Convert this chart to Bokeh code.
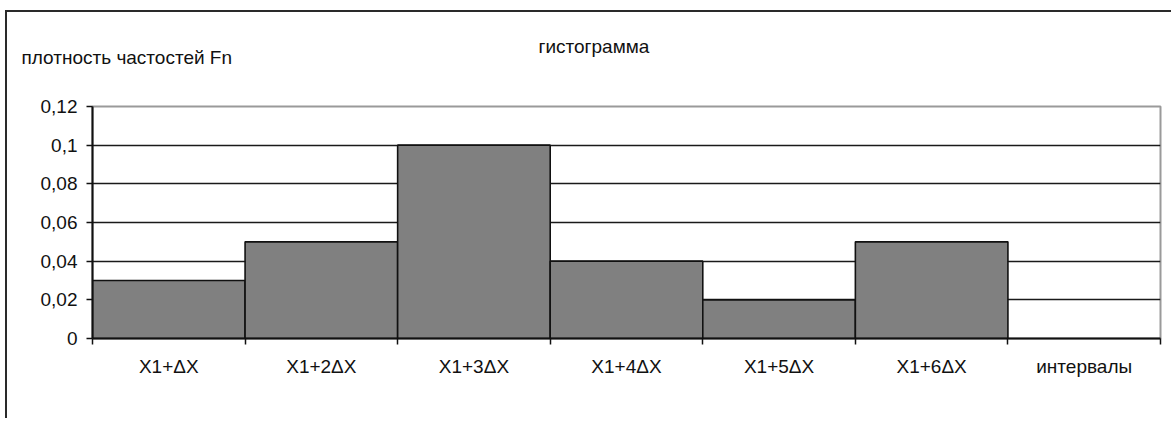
from bokeh.plotting import figure
from bokeh.models import FixedTicker, Title
from bokeh.embed import file_html
from bokeh.resources import INLINE

# data
categories = ["X1+ΔX", "X1+2ΔX", "X1+3ΔX", "X1+4ΔX", "X1+5ΔX", "X1+6ΔX", "интервалы"]
bar_values = [0.03, 0.05, 0.10, 0.04, 0.02, 0.05]
y_ticks = [0, 0.02, 0.04, 0.06, 0.08, 0.1, 0.12]
y_tick_labels = ["0", "0,02", "0,04", "0,06", "0,08", "0,1", "0,12"]
title_text = "гистограмма"
y_title = "плотность частостей Fn"

FONT = "Liberation Sans"
FS = "19px"

p = figure(width=1166, height=408, output_backend="svg", toolbar_location=None,
           x_range=(0, len(categories)), y_range=(0, 0.12),
           min_border_left=85, min_border_right=13, min_border_top=94, min_border_bottom=82,
           margin=(10, 0, 0, 5),
           styles={"border-left": "2px solid #2a2a2a", "border-top": "2px solid #2a2a2a"})

p.background_fill_color = "white"
p.border_fill_color = "white"
p.outline_line_color = "#9a9a9a"
p.outline_line_width = 2

xs = [i + 0.5 for i in range(len(bar_values))]
p.vbar(x=xs, top=bar_values, width=1.0, bottom=0,
       fill_color="#808080", line_color="#111111", line_width=1.6)

# x axis: tick marks at category boundaries, labels at centers
centers = [i + 0.5 for i in range(len(categories))]
p.xaxis.ticker = FixedTicker(ticks=centers, minor_ticks=list(range(len(categories) + 1)))
p.xaxis.major_label_overrides = {c: lab for c, lab in zip(centers, categories)}
p.xaxis.major_tick_line_color = None
p.xaxis.major_tick_out = 0
p.xaxis.major_tick_in = 0
p.xaxis.minor_tick_line_color = "#111111"
p.xaxis.minor_tick_line_width = 1.5
p.xaxis.minor_tick_out = 6
p.xaxis.minor_tick_in = 0
p.xaxis.axis_line_color = "#111111"
p.xaxis.axis_line_width = 2
p.xaxis.major_label_standoff = 11
p.xaxis.major_label_text_font = FONT
p.xaxis.major_label_text_font_size = FS
p.xaxis.major_label_text_color = "#111111"
p.xgrid.grid_line_color = None

# y axis
p.yaxis.ticker = FixedTicker(ticks=y_ticks)
p.yaxis.major_label_overrides = {t: lab for t, lab in zip(y_ticks, y_tick_labels)}
p.yaxis.major_tick_out = 6
p.yaxis.major_tick_in = 0
p.yaxis.minor_tick_line_color = None
p.yaxis.major_tick_line_color = "#111111"
p.yaxis.major_tick_line_width = 1.5
p.yaxis.axis_line_color = "#111111"
p.yaxis.axis_line_width = 2
p.yaxis.major_label_standoff = 9
p.yaxis.major_label_text_font = FONT
p.yaxis.major_label_text_font_size = FS
p.yaxis.major_label_text_color = "#111111"

p.ygrid.ticker = FixedTicker(ticks=y_ticks[1:-1])
p.ygrid.grid_line_color = "#1a1a1a"
p.ygrid.grid_line_width = 1.6

# titles above the frame
p.add_layout(Title(text=y_title, align="left", offset=-71, standoff=-120, vertical_align="top",
                   text_font=FONT, text_font_size=FS, text_font_style="normal",
                   text_color="#111111"), "above")
p.add_layout(Title(text=title_text, align="left", offset=446, standoff=-142, vertical_align="top",
                   text_font=FONT, text_font_size=FS, text_font_style="normal",
                   text_color="#111111"), "above")

open("out.html", "w").write(file_html(p, INLINE))
